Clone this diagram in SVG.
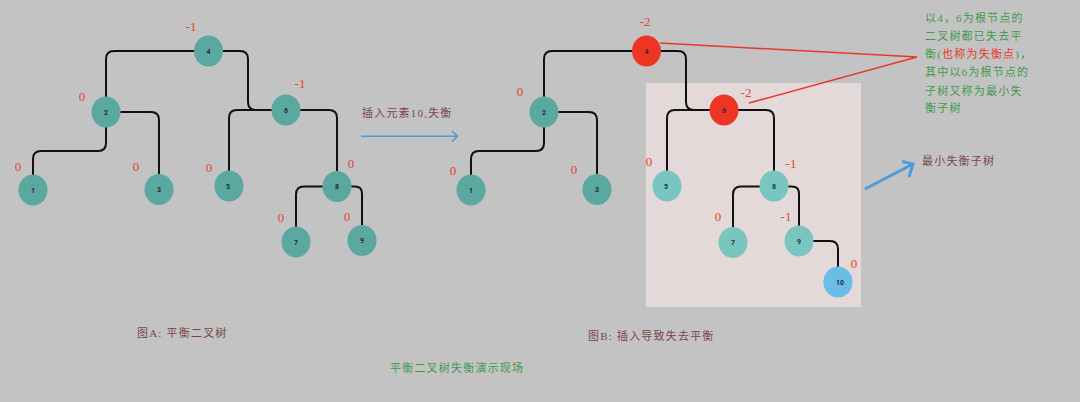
<svg xmlns="http://www.w3.org/2000/svg" width="1080" height="402" viewBox="0 0 1080 402">
<style>
.n ellipse{stroke:none}
.t{fill:#c8bfc0}
.teal{fill:#5ba8a1}
.lteal{fill:#7ac5c0}
.red{fill:#ee3524}
.blue{fill:#6bbde6}
.nt{font-family:Roboto,"Liberation Sans",sans-serif;font-size:7px;font-weight:bold;fill:#1e2e2e;text-anchor:middle}
.bf{font-family:"Liberation Serif",serif;font-size:13px;fill:#e8412f;text-anchor:middle}
.edge{fill:none;stroke:#111;stroke-width:2}
.cjk{font-family:"Liberation Serif","Noto Sans CJK SC",serif;font-size:11px;letter-spacing:1.2px}
.brown{fill:#7a4545}
.green{fill:#3f9a4c}
.rd{fill:#e8382a}
</style>
<rect width="1080" height="402" fill="#c3c3c3"/>
<rect x="646" y="83" width="215" height="224" fill="#e4d9d9"/>

<g id="connectors">
<path class="edge" d="M194,51 H114 Q106,51 106,59 V97"/>
<path class="edge" d="M223,51 H240 Q248,51 248,59 V102 Q248,110 256,110 H272"/>
<path class="edge" d="M106,127 V143 Q106,151 98,151 H41 Q33,151 33,159 V175"/>
<path class="edge" d="M120,112 H151 Q159,112 159,120 V174"/>
<path class="edge" d="M272,110 H237 Q229,110 229,118 V171"/>
<path class="edge" d="M300,110 H329 Q337,110 337,118 V171"/>
<path class="edge" d="M323,186.5 H304 Q296,186.5 296,194.5 V227"/>
<path class="edge" d="M351,186.5 H355 Q362,186.5 362,193.5 V225"/>

<path class="edge" d="M632,51 H552 Q544,51 544,59 V97"/>
<path class="edge" d="M661,51 H678 Q686,51 686,59 V102 Q686,110 694,110 H710"/>
<path class="edge" d="M544,127 V143 Q544,151 536,151 H479 Q471,151 471,159 V175"/>
<path class="edge" d="M558,112 H589 Q597,112 597,120 V174"/>
<path class="edge" d="M710,110 H675 Q667,110 667,118 V171"/>
<path class="edge" d="M738,110 H766 Q774,110 774,118 V171"/>
<path class="edge" d="M760,186.5 H741 Q733,186.5 733,194.5 V228"/>
<path class="edge" d="M788,186.5 H792 Q799,186.5 799,193.5 V226"/>
<path class="edge" d="M813,241 H830 Q838,241 838,249 V267"/>

<path d="M361,136.3 H457" fill="none" stroke="#4d9bd8" stroke-width="1.6"/>
<path d="M452,131 L457.5,136.3 L452,141.5" fill="none" stroke="#4d9bd8" stroke-width="1.6"/>
<path d="M865,189 L913,164" fill="none" stroke="#4d9bd8" stroke-width="3"/>
<path d="M902,161.5 L913,164 L909,177" fill="none" stroke="#4d9bd8" stroke-width="3"/>
<path d="M660,43 L917,57 L749,103" fill="none" stroke="#e8382a" stroke-width="1.5"/>
</g>

<g id="A4" class="n"><ellipse class="teal" cx="208.5" cy="51" rx="14.5" ry="15.5"/><text class="nt" x="208.5" y="53.5">4</text></g>
<g id="A2" class="n"><ellipse class="teal" cx="106" cy="112" rx="14.5" ry="15.5"/><text class="nt" x="106" y="114.5">2</text></g>
<g id="A1" class="n"><ellipse class="teal" cx="33" cy="190" rx="14.5" ry="15.5"/><text class="nt" x="33" y="192.5">1</text></g>
<g id="A3" class="n"><ellipse class="teal" cx="159" cy="189.5" rx="14.5" ry="15.5"/><text class="nt" x="159" y="192">3</text></g>
<g id="A6" class="n"><ellipse class="teal" cx="286" cy="110" rx="14.5" ry="15.5"/><text class="nt" x="286" y="112.5">6</text></g>
<g id="A5" class="n"><ellipse class="teal" cx="229" cy="186" rx="14.5" ry="15.5"/><text class="nt" x="228" y="188.5">5</text></g>
<g id="A8" class="n"><ellipse class="teal" cx="337" cy="186.5" rx="14.5" ry="15.5"/><text class="nt" x="337" y="189">8</text></g>
<g id="A7" class="n"><ellipse class="teal" cx="296" cy="242" rx="14.5" ry="15.5"/><text class="nt" x="296" y="244.5">7</text></g>
<g id="A9" class="n"><ellipse class="teal" cx="362" cy="240.5" rx="14.5" ry="15.5"/><text class="nt" x="362" y="243">9</text></g>

<g id="B4" class="n"><ellipse class="red" cx="646.5" cy="51" rx="14.5" ry="15.5"/><text class="nt" x="646.5" y="53.5">4</text></g>
<g id="B2" class="n"><ellipse class="teal" cx="544" cy="112" rx="14.5" ry="15.5"/><text class="nt" x="544" y="114.5">2</text></g>
<g id="B1" class="n"><ellipse class="teal" cx="471" cy="190" rx="14.5" ry="15.5"/><text class="nt" x="471" y="192.5">1</text></g>
<g id="B3" class="n"><ellipse class="teal" cx="597" cy="189.5" rx="14.5" ry="15.5"/><text class="nt" x="597" y="192">3</text></g>
<g id="B6" class="n"><ellipse class="red" cx="724" cy="110" rx="14.5" ry="15.5"/><text class="nt" x="724" y="112.5">6</text></g>
<g id="B5" class="n"><ellipse class="lteal" cx="667" cy="186" rx="14.5" ry="15.5"/><text class="nt" x="666" y="188.5">5</text></g>
<g id="B8" class="n"><ellipse class="lteal" cx="774" cy="186" rx="14.5" ry="15.5"/><text class="nt" x="774" y="188.5">8</text></g>
<g id="B7" class="n"><ellipse class="lteal" cx="733" cy="242.5" rx="14.5" ry="15.5"/><text class="nt" x="733" y="245">7</text></g>
<g id="B9" class="n"><ellipse class="lteal" cx="799" cy="241" rx="14.5" ry="15.5"/><text class="nt" x="799" y="243.5">9</text></g>
<g id="B10" class="n"><ellipse class="blue" cx="838" cy="282" rx="14.5" ry="15.5"/><text class="nt" x="840" y="284.5">10</text></g>

<g id="balance">
<text class="bf" x="191" y="31">-1</text>
<text class="bf" x="82" y="101">0</text>
<text class="bf" x="18" y="171">0</text>
<text class="bf" x="136" y="171">0</text>
<text class="bf" x="300" y="88">-1</text>
<text class="bf" x="209" y="172">0</text>
<text class="bf" x="351" y="168">0</text>
<text class="bf" x="281" y="222">0</text>
<text class="bf" x="347" y="221">0</text>

<text class="bf" x="645" y="26">-2</text>
<text class="bf" x="520" y="96">0</text>
<text class="bf" x="453" y="175">0</text>
<text class="bf" x="574" y="174">0</text>
<text class="bf" x="746" y="97">-2</text>
<text class="bf" x="649" y="166">0</text>
<text class="bf" x="791" y="168">-1</text>
<text class="bf" x="718" y="221">0</text>
<text class="bf" x="786" y="221">-1</text>
<text class="bf" x="854" y="268">0</text>
</g>

<g id="labels">
<text class="cjk brown" x="362" y="117">插入元素10,失衡</text>
<text class="cjk green" x="925" y="22">以4，6为根节点的</text>
<text class="cjk green" x="925" y="40">二叉树都已失去平</text>
<text class="cjk green" x="925" y="58">衡(<tspan class="rd">也称为失衡点</tspan>)，</text>
<text class="cjk green" x="925" y="76">其中以6为根节点的</text>
<text class="cjk green" x="925" y="94.5">子树又称为最小失</text>
<text class="cjk green" x="925" y="112">衡子树</text>
<text class="cjk brown" x="922" y="165">最小失衡子树</text>
<text class="cjk brown" x="137" y="337">图A: 平衡二叉树</text>
<text class="cjk brown" x="588" y="340">图B: 插入导致失去平衡</text>
<text class="cjk green" x="390" y="372">平衡二叉树失衡演示现场</text>
</g>
</svg>
